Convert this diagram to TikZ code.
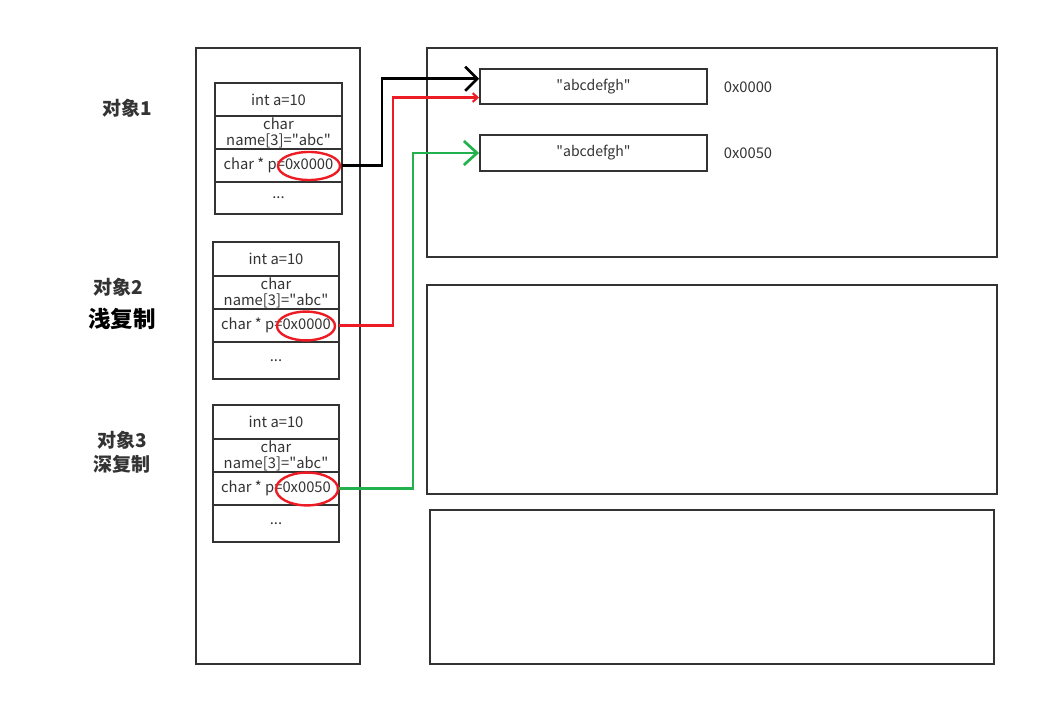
\documentclass[tikz,border=0pt]{standalone}
\usepackage{fontspec}
\setmainfont{Noto Sans CJK SC}
\newfontfamily\cnfont{Noto Sans CJK SC}
\usetikzlibrary{arrows.meta,positioning,calc,shapes.geometric}
\definecolor{ink}{HTML}{333333}
\definecolor{ptrred}{HTML}{ED1C24}
\definecolor{ptrgreen}{HTML}{22B14C}
\tikzset{
    frame/.style={draw=ink, line width=1.1pt},
    cell/.style={draw=ink, line width=1.3pt, minimum width=3.15cm, minimum height=0.825cm, inner sep=0pt, outer sep=0pt, align=center, text=ink, font=\cnfont\fontsize{10.5}{11.5}\selectfont},
    addr/.style={ellipse, draw=ptrred, line width=1.7pt, inner sep=0pt},
    strbox/.style={draw=ink, line width=1.3pt, minimum width=5.675cm, minimum height=0.875cm, inner sep=0pt, text=ink, font=\cnfont\fontsize{10}{10}\selectfont},
    addrtext/.style={text=ink, font=\cnfont\fontsize{10.5}{10.5}\selectfont},
    objlabel/.style={text=ink, font=\fontsize{13.5}{14}\selectfont\bfseries, align=center},
    ptr/.style={line width=1.9pt}
}

\begin{document}
\begin{tikzpicture}[x=0.025cm, y=-0.025cm]
    \useasboundingbox (0,0) rectangle (1059,727);
    % stack and heap areas
    \draw[frame] (196,48) rectangle (360,664);
    \draw[frame] (427,48) rectangle (997,257);
    \draw[frame] (427,285) rectangle (997,494);
    \draw[frame] (430,510) rectangle (994,664);
    % object 1
    \begin{scope}
        \node[objlabel] (l1) at (127,108) {对象1};
        \node[cell, minimum width=3.175cm] (o1a) at (278.5,99.5) {int a=10};
        \node[cell, minimum width=3.175cm, below=0pt of o1a] (o1b) {char\\name[3]="abc"};
        \node[cell, minimum width=3.175cm, below=0pt of o1b] (o1c) {char * p=0x0000};
        \node[cell, minimum width=3.175cm, minimum height=0.8cm, below=0pt of o1c] (o1d) {...};
        \node[addr, minimum width=1.55cm, minimum height=0.7cm] (e1) at (309,166) {};
    \end{scope}
    % object 2
    \begin{scope}
        \node[objlabel] (l2) at (118,287) {对象2};
        \node[objlabel, text=black, font=\fontsize{16}{16}\selectfont\bfseries] (c2) at (122,319) {浅复制};
        \node[cell, minimum height=0.85cm] (o2a) at (276,259) {int a=10};
        \node[cell, below=0pt of o2a] (o2b) {char\\name[3]="abc"};
        \node[cell, below=0pt of o2b] (o2c) {char * p=0x0000};
        \node[cell, minimum height=0.925cm, below=0pt of o2c] (o2d) {...};
        \node[addr, minimum width=1.45cm, minimum height=0.72cm] (e2) at (306,326) {};
    \end{scope}
    % object 3
    \begin{scope}
        \node[objlabel] (l3) at (122,440) {对象3};
        \node[objlabel] (c3) at (122,464) {深复制};
        \node[cell, minimum height=0.85cm] (o3a) at (276,422) {int a=10};
        \node[cell, below=0pt of o3a] (o3b) {char\\name[3]="abc"};
        \node[cell, below=0pt of o3b] (o3c) {char * p=0x0050};
        \node[cell, minimum height=0.925cm, below=0pt of o3c] (o3d) {...};
        \node[addr, minimum width=1.55cm, minimum height=0.82cm] (e3) at (307,489) {};
    \end{scope}
    % heap strings
    \node[strbox] (s1) at (593.5,86.5) {"abcdefgh"};
    \node[strbox, minimum height=0.9cm] (s2) at (593.5,153) {"abcdefgh"};
    \node[addrtext] (h1) at (748,87) {0x0000};
    \node[addrtext] (h2) at (748,153) {0x0050};
    % pointers
    \draw[ptr, black, -{Straight Barb[length=0.3cm, width=0.6cm, line width=1.9pt]}]
        (o1c.east) -| (382,100) |- ($(s1.north west)!0.29!(s1.south west)$);
    \draw[ptr, ptrred, -{Straight Barb[length=0.12cm, width=0.22cm, line width=1.5pt]}]
        (o2c.east) -| (393,200) |- ($(s1.north west)!0.8!(s1.south west)$);
    \draw[ptr, ptrgreen, -{Straight Barb[length=0.33cm, width=0.6cm, line width=1.9pt]}]
        (o3c.east) -| (413,300) |- (s2.west);
\end{tikzpicture}
\end{document}
